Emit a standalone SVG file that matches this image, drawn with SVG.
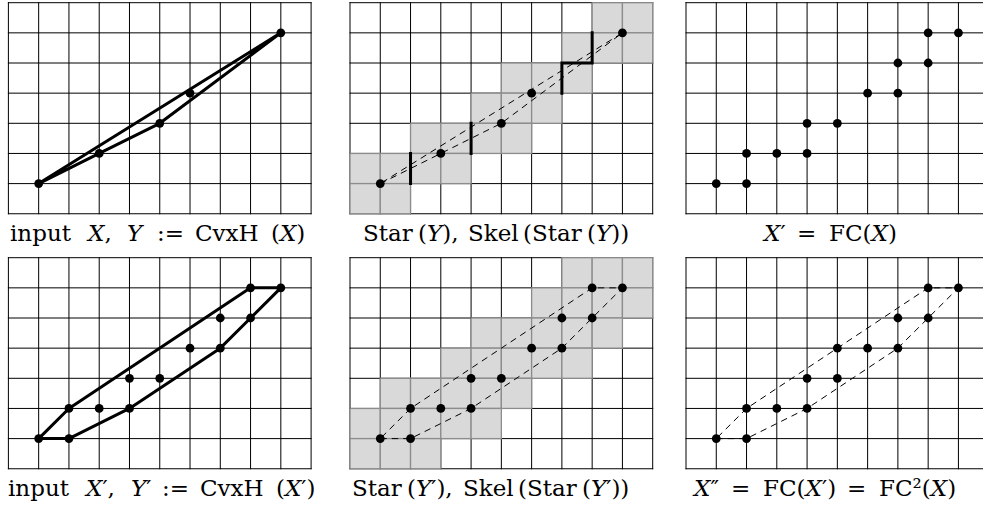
<svg xmlns="http://www.w3.org/2000/svg" xmlns:xlink="http://www.w3.org/1999/xlink" width="983" height="514" viewBox="0 0 983 514">
<style>
.g{fill:none;stroke:#000;stroke-width:1;stroke-linecap:square}
.sh{fill:#d9d9d9;stroke:#8c8c8c;stroke-width:1.3}
.hull{fill:none;stroke:#000;stroke-width:3;stroke-linejoin:round}
.dash{fill:none;stroke:#000;stroke-width:1;stroke-dasharray:6.5 5}
.sk{fill:none;stroke:#000;stroke-width:3;stroke-linecap:square;stroke-linejoin:miter}
.pt{fill:#000}
.lbl{font-family:"DejaVu Serif","Liberation Serif",serif;font-size:23px;fill:#000}
.it{font-style:italic}
</style>
<defs>
<path id="grid" class="g" d="M0 0V211.05M30.27 0V211.05M60.54 0V211.05M90.81 0V211.05M121.08 0V211.05M151.35 0V211.05M181.62 0V211.05M211.89 0V211.05M242.16 0V211.05M272.43 0V211.05M302.7 0V211.05M0 0H302.7M0 30.15H302.7M0 60.3H302.7M0 90.45H302.7M0 120.6H302.7M0 150.75H302.7M0 180.9H302.7M0 211.05H302.7"/>
<rect id="cell" class="sh" width="30.27" height="30.15"/>
<g id="ptsX" class="pt">
<circle cx="30.27" cy="180.9" r="4.4"/>
<circle cx="90.81" cy="150.75" r="4.4"/>
<circle cx="151.35" cy="120.6" r="4.4"/>
<circle cx="181.62" cy="90.45" r="4.4"/>
<circle cx="272.43" cy="30.15" r="4.4"/>
</g>
<g id="ptsX1" class="pt">
<circle cx="30.27" cy="180.9" r="4.4"/>
<circle cx="60.54" cy="180.9" r="4.4"/>
<circle cx="60.54" cy="150.75" r="4.4"/>
<circle cx="90.81" cy="150.75" r="4.4"/>
<circle cx="121.08" cy="150.75" r="4.4"/>
<circle cx="121.08" cy="120.6" r="4.4"/>
<circle cx="151.35" cy="120.6" r="4.4"/>
<circle cx="181.62" cy="90.45" r="4.4"/>
<circle cx="211.89" cy="90.45" r="4.4"/>
<circle cx="211.89" cy="60.3" r="4.4"/>
<circle cx="242.16" cy="60.3" r="4.4"/>
<circle cx="242.16" cy="30.15" r="4.4"/>
<circle cx="272.43" cy="30.15" r="4.4"/>
</g>
<polygon id="hullY" points="30.27,180.9 90.81,150.75 151.35,120.6 272.43,30.15"/>
<polygon id="hullY1" points="30.27,180.9 60.54,180.9 121.08,150.75 211.89,90.45 242.16,60.3 272.43,30.15 242.16,30.15 60.54,150.75"/>
</defs>
<rect width="983" height="514" fill="#fff"/>

<g id="panel1" transform="translate(8.4,2.7)">
<use xlink:href="#grid"/>
<g id="connectors1"><use xlink:href="#hullY" class="hull"/></g>
<use xlink:href="#ptsX"/>
</g>

<g id="panel2" transform="translate(350,2.7)">
<use xlink:href="#grid"/>
<g id="star1">
<use xlink:href="#cell" x="242.16" y="0"/><use xlink:href="#cell" x="272.43" y="0"/>
<use xlink:href="#cell" x="211.89" y="30.15"/><use xlink:href="#cell" x="242.16" y="30.15"/><use xlink:href="#cell" x="272.43" y="30.15"/>
<use xlink:href="#cell" x="151.35" y="60.3"/><use xlink:href="#cell" x="181.62" y="60.3"/><use xlink:href="#cell" x="211.89" y="60.3"/>
<use xlink:href="#cell" x="121.08" y="90.45"/><use xlink:href="#cell" x="151.35" y="90.45"/><use xlink:href="#cell" x="181.62" y="90.45"/>
<use xlink:href="#cell" x="60.54" y="120.6"/><use xlink:href="#cell" x="90.81" y="120.6"/><use xlink:href="#cell" x="121.08" y="120.6"/><use xlink:href="#cell" x="151.35" y="120.6"/>
<use xlink:href="#cell" x="0" y="150.75"/><use xlink:href="#cell" x="30.27" y="150.75"/><use xlink:href="#cell" x="60.54" y="150.75"/><use xlink:href="#cell" x="90.81" y="150.75"/>
<use xlink:href="#cell" x="0" y="180.9"/><use xlink:href="#cell" x="30.27" y="180.9"/>
</g>
<g id="connectors2">
<path class="sk" d="M60.54 150.75V180.9M121.08 120.6V150.75M211.89 90.45V60.3H242.16V30.15"/>
<use xlink:href="#hullY" class="dash"/>
</g>
<use xlink:href="#ptsX"/>
</g>

<g id="panel3" transform="translate(686,2.7)">
<use xlink:href="#grid"/>
<use xlink:href="#ptsX1"/>
</g>

<g id="panel4" transform="translate(8.4,257.7)">
<use xlink:href="#grid"/>
<g id="connectors4"><use xlink:href="#hullY1" class="hull"/></g>
<use xlink:href="#ptsX1"/>
</g>

<g id="panel5" transform="translate(350,257.7)">
<use xlink:href="#grid"/>
<g id="star2">
<use xlink:href="#cell" x="211.89" y="0"/><use xlink:href="#cell" x="242.16" y="0"/><use xlink:href="#cell" x="272.43" y="0"/>
<use xlink:href="#cell" x="181.62" y="30.15"/><use xlink:href="#cell" x="211.89" y="30.15"/><use xlink:href="#cell" x="242.16" y="30.15"/><use xlink:href="#cell" x="272.43" y="30.15"/>
<use xlink:href="#cell" x="121.08" y="60.3"/><use xlink:href="#cell" x="151.35" y="60.3"/><use xlink:href="#cell" x="181.62" y="60.3"/><use xlink:href="#cell" x="211.89" y="60.3"/><use xlink:href="#cell" x="242.16" y="60.3"/>
<use xlink:href="#cell" x="90.81" y="90.45"/><use xlink:href="#cell" x="121.08" y="90.45"/><use xlink:href="#cell" x="151.35" y="90.45"/><use xlink:href="#cell" x="181.62" y="90.45"/><use xlink:href="#cell" x="211.89" y="90.45"/>
<use xlink:href="#cell" x="30.27" y="120.6"/><use xlink:href="#cell" x="60.54" y="120.6"/><use xlink:href="#cell" x="90.81" y="120.6"/><use xlink:href="#cell" x="121.08" y="120.6"/><use xlink:href="#cell" x="151.35" y="120.6"/>
<use xlink:href="#cell" x="0" y="150.75"/><use xlink:href="#cell" x="30.27" y="150.75"/><use xlink:href="#cell" x="60.54" y="150.75"/><use xlink:href="#cell" x="90.81" y="150.75"/><use xlink:href="#cell" x="121.08" y="150.75"/>
<use xlink:href="#cell" x="0" y="180.9"/><use xlink:href="#cell" x="30.27" y="180.9"/><use xlink:href="#cell" x="60.54" y="180.9"/>
</g>
<g id="connectors5"><use xlink:href="#hullY1" class="dash"/></g>
<use xlink:href="#ptsX1"/>
</g>

<g id="panel6" transform="translate(686,257.7)">
<use xlink:href="#grid"/>
<g id="connectors6"><use xlink:href="#hullY1" class="dash"/></g>
<use xlink:href="#ptsX1"/>
<circle class="pt" cx="151.35" cy="90.45" r="4.4"/>
</g>

<g id="labels" class="lbl">
<text y="241"><tspan x="10">input</tspan><tspan x="88" class="it">X</tspan><tspan>,</tspan><tspan x="127" class="it">Y</tspan><tspan x="157">:=</tspan><tspan x="195">CvxH</tspan><tspan x="271">(</tspan><tspan class="it">X</tspan><tspan>)</tspan></text>
<text y="241"><tspan x="363">Star</tspan><tspan x="418">(</tspan><tspan class="it">Y</tspan><tspan>),</tspan><tspan x="468">Skel</tspan><tspan x="523">(Star</tspan><tspan x="587">(</tspan><tspan class="it">Y</tspan><tspan>))</tspan></text>
<text y="241"><tspan x="764" class="it">X</tspan><tspan>′</tspan><tspan x="797">=</tspan><tspan x="829">FC(</tspan><tspan class="it">X</tspan><tspan>)</tspan></text>
<text y="496"><tspan x="8">input</tspan><tspan x="86" class="it">X</tspan><tspan>′,</tspan><tspan x="131" class="it">Y</tspan><tspan>′</tspan><tspan x="162">:=</tspan><tspan x="200">CvxH</tspan><tspan x="276">(</tspan><tspan class="it">X</tspan><tspan>′)</tspan></text>
<text y="496"><tspan x="352">Star</tspan><tspan x="407">(</tspan><tspan class="it">Y</tspan><tspan>′),</tspan><tspan x="463">Skel</tspan><tspan x="518">(Star</tspan><tspan x="582">(</tspan><tspan class="it">Y</tspan><tspan>′))</tspan></text>
<text y="496"><tspan x="694" class="it">X</tspan><tspan>″</tspan><tspan x="731">=</tspan><tspan x="763">FC(</tspan><tspan class="it">X</tspan><tspan>′)</tspan><tspan x="847">=</tspan><tspan x="879">FC²(</tspan><tspan class="it">X</tspan><tspan>)</tspan></text>
</g>
</svg>
